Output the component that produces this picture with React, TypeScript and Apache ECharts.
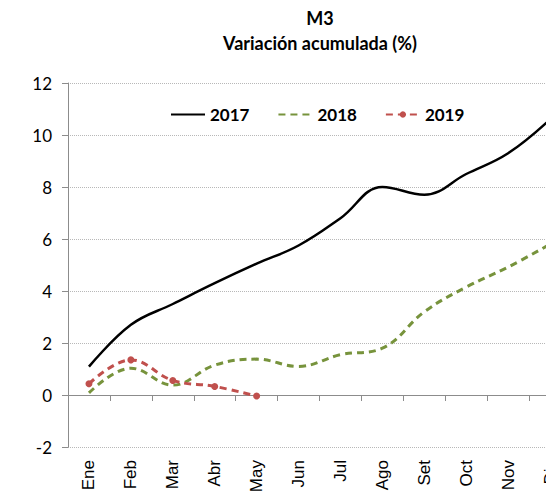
import React, { useEffect, useRef } from "react";
import * as echarts from "echarts";

const months = ["Ene", "Feb", "Mar", "Abr", "May", "Jun", "Jul", "Ago", "Set", "Oct", "Nov", "Dic"];
const s2017 = [1.09, 2.7, 3.5, 4.3, 5.05, 5.75, 6.8, 8.0, 7.7, 8.5, 9.3, 10.6];
const s2018 = [0.08, 1.03, 0.38, 1.15, 1.38, 1.1, 1.55, 1.8, 3.2, 4.15, 4.92, 5.8];
const s2019 = [0.43, 1.35, 0.56, 0.33, -0.04];
const yTicks = { min: -2, max: 12, interval: 2 };

export default function App() {
  const ref = useRef<HTMLDivElement>(null);
  useEffect(() => {
    if (!ref.current) return;
    const chart = echarts.init(ref.current, null, { renderer: "svg" });
    chart.setOption({
      animation: false,
      backgroundColor: "#fff",
      title: {
        text: "M3\nVariación acumulada (%)",
        left: 320,
        top: 5,
        padding: 0,
        textAlign: "center",
        textStyle: { fontFamily: "Lato", fontWeight: "bold", fontSize: 18, lineHeight: 25, color: "#000" },
      },
      legend: {
        left: 170,
        top: 106,
        padding: 0,
        itemWidth: 34,
        itemHeight: 8,
        itemGap: 28,
        textStyle: { fontFamily: "Lato", fontWeight: "bold", fontSize: 17, color: "#000" },
        data: [
          { name: "2017", itemStyle: { opacity: 0 } },
          { name: "2018", itemStyle: { opacity: 0 } },
          { name: "2019" },
        ],
      },
      grid: { left: 68, top: 83, width: 503, height: 364, containLabel: false, outerBoundsMode: "none" },
      xAxis: {
        type: "category",
        data: months,
        boundaryGap: true,
        axisLine: { onZero: true, lineStyle: { color: "#8c8c8c", width: 1 } },
        axisTick: { show: true, length: 6, interval: 0, lineStyle: { color: "#8c8c8c" } },
        axisLabel: { rotate: 90, margin: 13, fontSize: 17, fontFamily: "Liberation Sans", color: "#000", interval: 0 },
        splitLine: { show: false },
      },
      yAxis: {
        type: "value",
        min: yTicks.min,
        max: yTicks.max,
        interval: yTicks.interval,
        axisLine: { show: true, lineStyle: { color: "#8c8c8c" } },
        axisTick: { show: true, length: 6, lineStyle: { color: "#8c8c8c" } },
        axisLabel: { fontSize: 17, fontFamily: "Lato", color: "#000", margin: 16 },
        splitLine: { show: true, lineStyle: { color: "#b8b8b8", type: [1, 1], width: 1 } },
      },
      series: [
        {
          name: "2017",
          type: "line",
          data: s2017,
          smooth: 0.4,
          symbol: "none",
          lineStyle: { color: "#000", width: 2.5 },
          itemStyle: { color: "#000" },
        },
        {
          name: "2018",
          type: "line",
          data: s2018,
          smooth: 0.4,
          symbol: "none",
          lineStyle: { color: "#77933C", width: 3, type: [7, 5] },
          itemStyle: { color: "#77933C" },
        },
        {
          name: "2019",
          type: "line",
          data: s2019,
          smooth: 0.4,
          symbol: "circle",
          symbolSize: 7,
          lineStyle: { color: "#C0504D", width: 3, type: [7, 5] },
          itemStyle: { color: "#C0504D" },
        },
      ],
    });
    return () => chart.dispose();
  }, []);
  return <div ref={ref} style={{ width: 546, height: 494, position: "absolute", left: 0, top: 0 }} />;
}
